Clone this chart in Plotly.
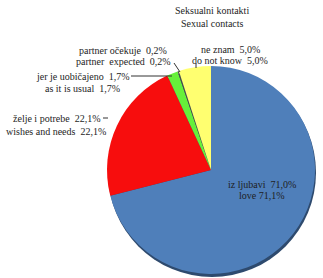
import plotly.graph_objects as go

labels = ["iz ljubavi / love", "želje i potrebe / wishes and needs",
          "jer je uobičajeno / as it is usual", "partner očekuje / partner expected",
          "ne znam / do not know"]
values = [71.0, 22.1, 1.7, 0.2, 5.0]
colors = ["#4F7FBA", "#F70D0D", "#66F03A", "#4A4A4A", "#FFFF70"]

label_lines = [
    ("iz ljubavi  71,0%", "love 71,1%"),
    ("želje i potrebe  22,1%", "wishes and needs  22,1%"),
    ("jer je uobičajeno  1,7%", "as it is usual  1,7%"),
    ("partner očekuje  0,2%", "partner  expected  0,2%"),
    ("ne znam  5,0%", "do not know  5,0%"),
]
title_lines = ["Seksualni kontakti", "Sexual contacts"]

W, H = 323, 278
def px(x): return x / W
def py(y): return 1 - y / H

fig = go.Figure()
fig.add_trace(go.Pie(
    labels=labels, values=values, sort=False, direction="clockwise", rotation=0,
    marker=dict(colors=colors, line=dict(width=0)),
    textinfo="none", hoverinfo="label+percent", showlegend=False,
    domain=dict(x=[px(107), px(315)], y=[py(274), py(66)]),
))

font = dict(family="Liberation Serif", size=10, color="#1E1E1E")
ann = []
ann.append(dict(x=px(212), y=py(10), text=title_lines[0]))
ann.append(dict(x=px(212), y=py(23), text=title_lines[1]))
pos = [(262, 184, 196), (56, 118, 132), (82, 76, 88), (123, 51, 62), (230, 49, 60)]
for (a, b), (cx, y1, y2) in zip(label_lines, pos):
    ann.append(dict(x=px(cx), y=py(y1), text=a))
    ann.append(dict(x=px(cx), y=py(y2), text=b))
for a in ann:
    a.update(xref="paper", yref="paper", showarrow=False, font=font,
             xanchor="center", yanchor="middle")

shapes = [
    dict(type="circle", xref="paper", yref="paper", layer="below",
         x0=px(108), x1=px(316), y0=py(277), y1=py(68),
         fillcolor="#2E4A6E", line=dict(width=0)),
    dict(type="line", xref="paper", yref="paper", x0=px(131), y0=py(76), x1=px(172), y1=py(76),
         line=dict(color="#333333", width=1)),
    dict(type="line", xref="paper", yref="paper", x0=px(174), y0=py(63), x1=px(180), y1=py(72),
         line=dict(color="#333333", width=1)),
    dict(type="line", xref="paper", yref="paper", x0=px(196), y0=py(64), x1=px(196), y1=py(68),
         line=dict(color="#333333", width=1)),
    dict(type="line", xref="paper", yref="paper", x0=px(103), y0=py(118), x1=px(108), y1=py(118),
         line=dict(color="#333333", width=1)),
]

fig.update_layout(width=W, height=H, margin=dict(l=0, r=0, t=0, b=0),
                  paper_bgcolor="white", plot_bgcolor="white",
                  annotations=ann, shapes=shapes)
fig.write_html("out.html")
